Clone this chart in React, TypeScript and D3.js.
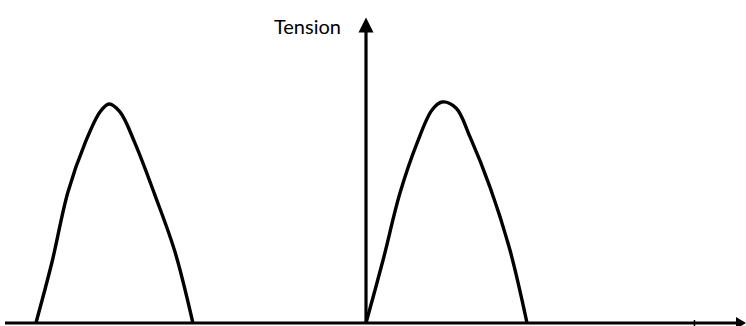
import React from "react";
import * as d3 from "d3";

// time axis in ms (y axis at t = 0), value = normalised tension
const hump1T = [-20.5, -19.5, -18.51, -17.45, -16.52, -15.96, -15.28, -14.35, -13.11, -11.86, -10.75];
const hump1V = [0, 0.276, 0.593, 0.814, 0.955, 0.991, 0.955, 0.814, 0.579, 0.321, 0];
const hump2T = [0, 1.06, 2.11, 3.17, 4.1, 4.72, 5.59, 6.46, 7.7, 8.94, 10.0];
const hump2V = [0, 0.285, 0.588, 0.814, 0.964, 1.0, 0.973, 0.842, 0.615, 0.33, 0];
const xTicks = [20.4];
const axisLabel = "Tension";

const W = 746;
const H = 326;

export default function App() {
  const x = d3.scaleLinear().domain([-22.42, 23.6]).range([5, 746]);
  const y = d3.scaleLinear().domain([0, 1]).range([323, 102]);
  const yTop = 1.382; // top of the vertical axis arrow

  const line = d3
    .line<[number, number]>()
    .x((d) => x(d[0]))
    .y((d) => y(d[1]))
    .curve(d3.curveCatmullRom.alpha(0.5));

  const h1 = hump1T.map((t, i) => [t, hump1V[i]] as [number, number]);
  const h2 = hump2T.map((t, i) => [t, hump2V[i]] as [number, number]);

  const x0 = x(0);
  const y0 = y(0);
  const xEnd = x.range()[1];
  const xStart = x.range()[0];
  const yTip = y(yTop);

  return (
    <svg
      width={W}
      height={H}
      style={{ position: "absolute", left: 0, top: 0, background: "#fff" }}
    >
      <rect width={W} height={H} fill="#fff" />
      {/* x axis */}
      <line x1={xStart} x2={xEnd - 8} y1={y0} y2={y0} stroke="#000" strokeWidth={3.2} />
      <path
        d={`M${xEnd},${y0} L${xEnd - 10},${y0 - 6} L${xEnd - 10},${y0 + 6} Z`}
        fill="#000"
      />
      {xTicks.map((t) => (
        <line key={t} x1={x(t)} x2={x(t)} y1={y0 - 3} y2={y0 + 3} stroke="#000" strokeWidth={1.5} />
      ))}
      {/* y axis */}
      <line x1={x0} x2={x0} y1={y0} y2={yTip + 12} stroke="#000" strokeWidth={3.2} />
      <path
        d={`M${x0},${yTip} L${x0 - 7.5},${yTip + 15} L${x0 + 7.5},${yTip + 15} Z`}
        fill="#000"
      />
      <text
        x={x0 - 25}
        y={34}
        textAnchor="end"
        fontFamily="Lato, 'Open Sans', sans-serif"
        fontSize={20}
        fill="#000"
      >
        {axisLabel}
      </text>
      {/* humps */}
      <path d={line(h1) || ""} fill="none" stroke="#000" strokeWidth={3.4} strokeLinejoin="round" />
      <path d={line(h2) || ""} fill="none" stroke="#000" strokeWidth={3.4} strokeLinejoin="round" />
    </svg>
  );
}
